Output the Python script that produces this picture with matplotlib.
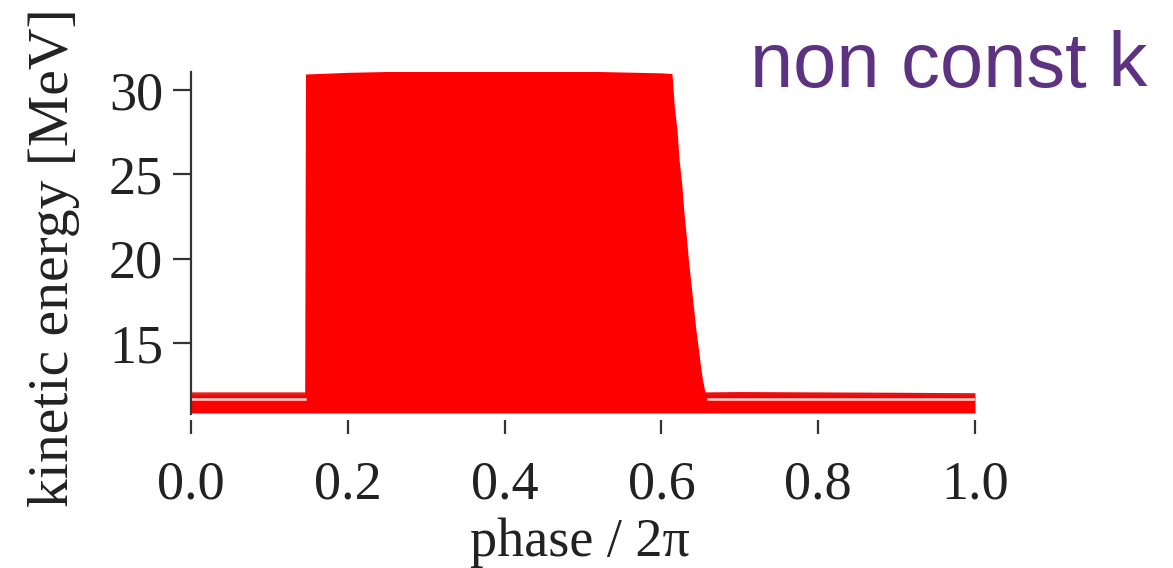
import matplotlib.pyplot as plt
import numpy as np

# upper envelope of the red band (phase / 2pi, kinetic energy in MeV)
phase = [0.0, 0.145, 0.146, 0.20, 0.25, 0.30, 0.35, 0.40, 0.45, 0.50, 0.55, 0.60, 0.6135,
         0.6165, 0.6200, 0.6225, 0.6260, 0.6285, 0.6320, 0.6345, 0.6380, 0.6405, 0.6440,
         0.6465, 0.6500, 0.6525, 0.6556, 0.70, 0.80, 0.90, 1.0]
energyTop = [12.1, 12.1, 30.95, 31.05, 31.1, 31.15, 31.18, 31.17, 31.15, 31.12, 31.07, 31.02, 30.98,
             29.0, 27.6, 25.9, 24.4, 22.9, 21.2, 19.9, 18.4, 17.3, 15.8, 14.9, 13.6, 12.8,
             12.1, 12.12, 12.1, 12.08, 12.05]
energyBottom = 10.85

# thin gap line inside the flat low energy band
gapLeft = [0.0, 0.145]
gapRight = [0.66, 1.0]
gapEnergy = 11.65

xTicks = [0.0, 0.2, 0.4, 0.6, 0.8, 1.0]
yTicks = [15, 20, 25, 30]

serif = 'Liberation Serif'
axisColor = '#333333'

fig = plt.figure(figsize=(11.73, 5.68), dpi=100)
ax = fig.add_axes([191 / 1173, 1 - 414 / 568, 784 / 1173, 342 / 568])

ax.fill_between(phase, energyBottom, energyTop, color='#ff0000', linewidth=0)
ax.plot(gapLeft, [gapEnergy, gapEnergy], color='#ffd8d8', linewidth=1.8)
ax.plot(gapRight, [gapEnergy, gapEnergy], color='#ffd8d8', linewidth=1.8)
ax.plot([0.0, 0.145], [12.0, 12.0], color='#c83030', linewidth=1.2)
ax.plot([0.66, 1.0], [12.0, 12.0], color='#d02020', linewidth=1.0)

ax.set_xlim(0, 1.0)
ax.set_ylim(10.79, 31.07)
ax.set_xticks(xTicks)
ax.set_xticklabels(['%.1f' % t for t in xTicks])
ax.set_yticks(yTicks)

for side in ['top', 'right']:
    ax.spines[side].set_visible(False)
ax.spines['bottom'].set_position(('outward', 4))
ax.spines['bottom'].set_color('none')
ax.spines['left'].set_color(axisColor)
ax.spines['left'].set_linewidth(1.6)

ax.tick_params(axis='x', direction='out', length=10, width=1.6, color=axisColor, pad=19)
ax.tick_params(axis='y', direction='out', length=13, width=1.6, color=axisColor, pad=7)
for lab in ax.get_xticklabels() + ax.get_yticklabels():
    lab.set_fontfamily(serif)
    lab.set_fontsize(39)
    lab.set_color('#222222')

ax.set_xlabel('phase / 2\u03c0', fontfamily=serif, fontsize=39, color='#222222')
ax.xaxis.set_label_coords((580 - 191) / 784, (414 - 517) / 342)
ax.set_ylabel('kinetic energy [MeV]', fontfamily=serif, fontsize=41.5, color='#222222')
ax.yaxis.set_label_coords((80 - 191) / 784, (414 - 258) / 342)

fig.text(750 / 1173, 1 - 87 / 568, 'non const k', fontfamily='Liberation Sans', fontsize=56,
         color='#5c3281', ha='left', va='baseline')

fig.savefig('out.png', dpi=100)
